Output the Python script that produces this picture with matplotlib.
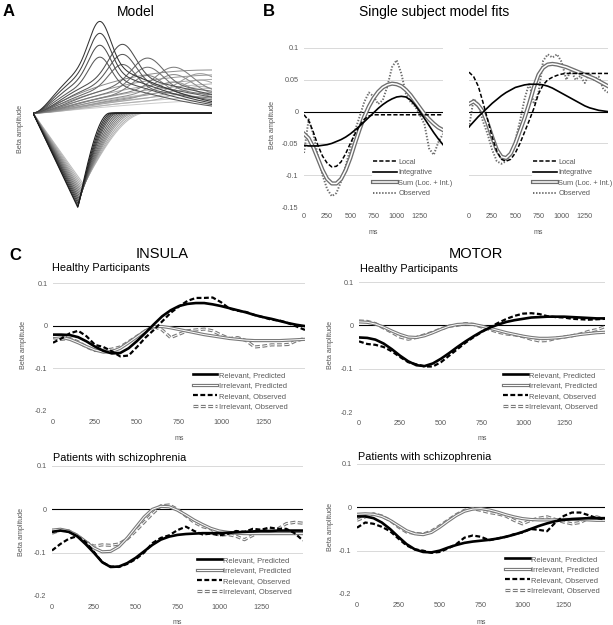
import numpy as np
import matplotlib.pyplot as plt
from matplotlib.lines import Line2D
from matplotlib.ticker import FuncFormatter

plt.rcParams['font.family'] = ['Liberation Sans', 'DejaVu Sans']
plt.rcParams['axes.unicode_minus'] = False
plt.rcParams['lines.scale_dashes'] = False

# ---------------- data ----------------
ms = list(range(0, 1501, 50))
ms_ticks = [0, 250, 500, 750, 1000, 1250]

# A: model basis curves (peak time, amplitude, width, grey level)
peak_ms = [560, 560, 560, 560, 750, 750, 750, 960, 960, 960, 1180, 1180, 1180, 1400, 1400, 1400]
peak_amp = [1.0, .87, .74, .61, .75, .64, .53, .60, .50, .41, .50, .42, .34, .43, .36, .29]
peak_sd = [90, 90, 90, 90, 110, 110, 110, 130, 130, 130, 150, 150, 150, 170, 170, 170]
peak_grey = [.2, .25, .3, .35, .3, .35, .4, .4, .45, .5, .5, .55, .6, .6, .65, .7]

ramp_ms = [1500, 1700, 1900, 2100, 2300, 2500, 2700, 2900]
ramp_amp = [.47, .42, .38, .34, .30, .26, .22, .18]
ramp_grey = [.55, .6, .65, .7, .72, .75, .78, .8]

dip_ms = [375, 378, 381, 384, 387, 390, 394, 398, 402, 406, 410, 415, 420, 425]
dip_depth = [1.03, 1.02, 1.0, .98, .96, .94, .92, .9, .88, .86, .84, .82, .8, .78]
dip_rise = [270, 285, 300, 315, 330, 350, 370, 390, 410, 430, 450, 475, 500, 520]
dip_grey = [.1, .15, .2, .25, .3, .35, .4, .45, .5, .55, .6, .65, .7, .75]

# B: single subject fits
b1_local = [-0.005, -0.014, -0.032, -0.053, -0.07, -0.081, -0.087, -0.086, -0.079, -0.066,
            -0.05, -0.035, -0.022, -0.012, -0.007, -0.005, -0.005, -0.005, -0.005, -0.005,
            -0.005, -0.005, -0.005, -0.005, -0.005, -0.005, -0.005, -0.005, -0.005, -0.005, -0.005]
b1_integ = [-0.053, -0.054, -0.054, -0.054, -0.053, -0.052, -0.05, -0.047, -0.044, -0.04,
            -0.035, -0.029, -0.023, -0.016, -0.009, -0.002, 0.005, 0.011, 0.016, 0.02,
            0.023, 0.024, 0.023, 0.018, 0.01, 0.0, -0.011, -0.022, -0.033, -0.043, -0.052]
b1_sum = [-0.035, -0.042, -0.056, -0.074, -0.092, -0.106, -0.113, -0.113, -0.106, -0.092,
          -0.073, -0.05, -0.028, -0.008, 0.008, 0.021, 0.031, 0.038, 0.042, 0.044,
          0.043, 0.04, 0.034, 0.026, 0.016, 0.006, -0.004, -0.012, -0.019, -0.025, -0.029]
b1_obs = [-0.065, -0.012, -0.035, -0.07, -0.1, -0.122, -0.133, -0.128, -0.11, -0.085,
          -0.058, -0.03, -0.008, 0.015, 0.03, 0.024, 0.012, 0.018, 0.04, 0.07,
          0.081, 0.06, 0.028, 0.015, 0.008, -0.005, -0.02, -0.058, -0.068, -0.048, -0.035]

b2_local = [0.062, 0.055, 0.04, 0.015, -0.012, -0.04, -0.062, -0.075, -0.078, -0.075,
            -0.065, -0.05, -0.032, -0.014, 0.005, 0.028, 0.042, 0.05, 0.054, 0.057,
            0.059, 0.06, 0.06, 0.06, 0.06, 0.06, 0.06, 0.06, 0.06, 0.06, 0.06]
b2_integ = [-0.024, -0.016, -0.008, -0.001, 0.006, 0.013, 0.019, 0.025, 0.03, 0.034,
            0.038, 0.04, 0.042, 0.043, 0.043, 0.043, 0.042, 0.04, 0.037, 0.033,
            0.029, 0.025, 0.021, 0.017, 0.013, 0.009, 0.006, 0.004, 0.002, 0.001, 0.0]
b2_sum = [0.012, 0.016, 0.01, 0.0, -0.018, -0.04, -0.06, -0.071, -0.073, -0.066,
          -0.05, -0.03, -0.01, 0.013, 0.038, 0.058, 0.069, 0.074, 0.075, 0.074,
          0.072, 0.07, 0.067, 0.064, 0.061, 0.058, 0.055, 0.052, 0.048, 0.044, 0.04]
b2_obs = [-0.025, 0.02, 0.012, -0.015, -0.035, -0.06, -0.078, -0.082, -0.078, -0.068,
          -0.045, -0.015, 0.02, 0.045, 0.012, 0.03, 0.08, 0.09, 0.085, 0.09,
          0.078, 0.05, 0.065, 0.05, 0.056, 0.045, 0.06, 0.05, 0.055, 0.035, 0.03]

# C: group averages (relevant / irrelevant, predicted / observed)
ins_hc_rel_pred = [-0.021, -0.021, -0.022, -0.027, -0.037, -0.049, -0.059, -0.065, -0.064, -0.053,
                   -0.036, -0.017, 0.003, 0.022, 0.036, 0.046, 0.051, 0.053, 0.053, 0.05,
                   0.046, 0.041, 0.036, 0.031, 0.025, 0.02, 0.016, 0.011, 0.006, 0.002, -0.001]
ins_hc_irr_pred = [-0.025, -0.027, -0.032, -0.04, -0.049, -0.057, -0.062, -0.061, -0.053, -0.04,
                   -0.026, -0.012, -0.002, -0.002, -0.005, -0.009, -0.013, -0.017, -0.021, -0.024,
                   -0.027, -0.03, -0.032, -0.034, -0.035, -0.035, -0.035, -0.035, -0.034, -0.033, -0.032]
ins_hc_rel_obs = [-0.04, -0.03, -0.018, -0.012, -0.025, -0.045, -0.05, -0.06, -0.072, -0.07,
                  -0.05, -0.028, -0.01, 0.01, 0.03, 0.045, 0.058, 0.065, 0.065, 0.066,
                  0.055, 0.04, 0.035, 0.032, 0.025, 0.02, 0.014, 0.012, 0.006, -0.002, -0.01]
ins_hc_irr_obs = [-0.028, -0.032, -0.03, -0.038, -0.05, -0.058, -0.058, -0.055, -0.05, -0.038,
                  -0.025, -0.012, -0.002, -0.01, -0.028, -0.02, -0.012, -0.01, -0.008, -0.012,
                  -0.022, -0.03, -0.028, -0.035, -0.05, -0.048, -0.045, -0.045, -0.044, -0.035, -0.03]

mot_hc_rel_pred = [-0.028, -0.029, -0.033, -0.042, -0.055, -0.07, -0.083, -0.092, -0.094, -0.088,
                   -0.077, -0.064, -0.05, -0.037, -0.025, -0.014, -0.005, 0.002, 0.008, 0.012,
                   0.015, 0.018, 0.019, 0.02, 0.02, 0.02, 0.019, 0.018, 0.017, 0.016, 0.016]
mot_hc_irr_pred = [0.008, 0.007, 0.003, -0.004, -0.013, -0.021, -0.027, -0.028, -0.024, -0.017,
                   -0.009, -0.002, 0.002, 0.003, 0.002, -0.002, -0.007, -0.012, -0.017, -0.021,
                   -0.025, -0.028, -0.03, -0.03, -0.029, -0.027, -0.024, -0.021, -0.019, -0.017, -0.016]
mot_hc_rel_obs = [-0.037, -0.043, -0.045, -0.05, -0.06, -0.073, -0.085, -0.09, -0.095, -0.095,
                  -0.085, -0.07, -0.055, -0.04, -0.027, -0.015, -0.004, 0.006, 0.015, 0.022,
                  0.027, 0.028, 0.026, 0.021, 0.019, 0.018, 0.015, 0.014, 0.013, 0.014, 0.015]
mot_hc_irr_obs = [0.01, 0.009, 0.004, -0.006, -0.016, -0.027, -0.032, -0.028, -0.022, -0.016,
                  -0.008, -0.002, 0.0, 0.004, 0.002, -0.004, -0.01, -0.016, -0.02, -0.022,
                  -0.026, -0.032, -0.036, -0.035, -0.03, -0.027, -0.024, -0.02, -0.014, -0.01, -0.003]

ins_sz_rel_pred = [-0.052, -0.049, -0.052, -0.062, -0.08, -0.1, -0.122, -0.133, -0.132, -0.124,
                   -0.112, -0.097, -0.082, -0.07, -0.063, -0.059, -0.057, -0.056, -0.055, -0.055,
                   -0.055, -0.054, -0.053, -0.052, -0.051, -0.05, -0.05, -0.049, -0.049, -0.049, -0.049]
ins_sz_irr_pred = [-0.048, -0.046, -0.05, -0.06, -0.074, -0.089, -0.098, -0.097, -0.086, -0.066,
                   -0.042, -0.018, 0.0, 0.007, 0.006, -0.002, -0.013, -0.025, -0.035, -0.044,
                   -0.05, -0.053, -0.055, -0.056, -0.056, -0.056, -0.056, -0.056, -0.056, -0.056, -0.056]
ins_sz_rel_obs = [-0.095, -0.08, -0.068, -0.062, -0.075, -0.098, -0.122, -0.132, -0.133, -0.126,
                  -0.115, -0.1, -0.078, -0.066, -0.06, -0.048, -0.04, -0.05, -0.058, -0.056,
                  -0.06, -0.057, -0.05, -0.052, -0.045, -0.047, -0.042, -0.045, -0.045, -0.055, -0.072]
ins_sz_irr_obs = [-0.055, -0.048, -0.05, -0.06, -0.075, -0.085, -0.082, -0.083, -0.08, -0.068,
                  -0.05, -0.03, -0.01, 0.008, 0.01, 0.0, -0.015, -0.03, -0.04, -0.045,
                  -0.06, -0.058, -0.062, -0.07, -0.06, -0.05, -0.048, -0.045, -0.033, -0.03, -0.032]

mot_sz_rel_pred = [-0.021, -0.021, -0.025, -0.035, -0.05, -0.068, -0.085, -0.097, -0.103, -0.104,
                   -0.1, -0.093, -0.087, -0.082, -0.079, -0.077, -0.075, -0.072, -0.068, -0.063,
                   -0.057, -0.05, -0.043, -0.037, -0.032, -0.029, -0.027, -0.026, -0.025, -0.025, -0.025]
mot_sz_irr_pred = [-0.016, -0.015, -0.016, -0.021, -0.03, -0.042, -0.054, -0.061, -0.063, -0.058,
                   -0.046, -0.032, -0.019, -0.009, -0.004, -0.003, -0.006, -0.011, -0.017, -0.022,
                   -0.026, -0.028, -0.029, -0.029, -0.029, -0.028, -0.028, -0.028, -0.029, -0.03, -0.03]
mot_sz_rel_obs = [-0.047, -0.035, -0.038, -0.045, -0.055, -0.072, -0.088, -0.097, -0.1, -0.105,
                  -0.103, -0.095, -0.085, -0.07, -0.065, -0.068, -0.076, -0.072, -0.068, -0.062,
                  -0.058, -0.05, -0.052, -0.055, -0.035, -0.02, -0.012, -0.012, -0.018, -0.025, -0.028]
mot_sz_irr_obs = [-0.03, -0.022, -0.015, -0.02, -0.03, -0.045, -0.057, -0.06, -0.062, -0.055,
                  -0.043, -0.03, -0.017, -0.007, -0.003, -0.007, -0.012, -0.015, -0.02, -0.03,
                  -0.038, -0.03, -0.025, -0.022, -0.028, -0.034, -0.038, -0.035, -0.025, -0.022, -0.028]

# ---------------- figure ----------------
W, H = 613, 625
fig = plt.figure(figsize=(W / 100, H / 100), dpi=100)
GRID = '#d9d9d9'
TXT = '#595959'
GREY = '#7a7a7a'


def box(l, t, r, b):
    return [l / W, 1 - b / H, (r - l) / W, (b - t) / H]


def fx(x):
    return x / W


def fy(y):
    return 1 - y / H


def excel_axes(ax, yticks, show_y=True):
    ax.set_xlim(0, 1500)
    ax.set_ylim(yticks[0], yticks[-1])
    ax.set_xticks(ms_ticks)
    ax.set_yticks(yticks)
    ax.yaxis.set_major_formatter(FuncFormatter(lambda v, p: '%g' % round(v, 3)))
    for s in ax.spines.values():
        s.set_visible(False)
    ax.tick_params(length=0, labelsize=5.2, labelcolor=TXT, pad=4)
    if not show_y:
        ax.set_yticklabels([])
    ax.grid(axis='y', color=GRID, lw=0.7)
    ax.set_axisbelow(True)
    ax.axhline(0, color='black', lw=0.8, zorder=1)


def gamma_shape(t, tp, k):
    return (t / tp) ** k * np.exp(k * (1 - t / tp))


# ---- panel A ----
axA = fig.add_axes(box(33, 15, 212, 212))
t = np.linspace(0, 1500, 601)
for tp, a, g in reversed(list(zip(ramp_ms, ramp_amp, ramp_grey))):
    axA.plot(t, a * gamma_shape(t, tp, 1.3), color=str(g), lw=0.7)
for tp, a, sd, g in reversed(list(zip(peak_ms, peak_amp, peak_sd, peak_grey))):
    y = a * (0.5 * gamma_shape(t, tp, 2.0) + 0.5 * np.exp(-0.5 * ((t - tp) / sd) ** 2))
    axA.plot(t, y, color=str(g), lw=0.75)
for tp, d, w, g in reversed(list(zip(dip_ms, dip_depth, dip_rise, dip_grey))):
    y = np.where(t <= tp, -d * t / tp, 0.0)
    s = np.clip((t - tp) / w, 0, 1)
    y = np.where(t > tp, -d * (1 - np.sin(np.pi / 2 * s)), y)
    axA.plot(t, y, color=str(g), lw=0.75)
axA.set_xlim(0, 1500)
axA.set_ylim(-1.08, 1.07)
axA.axis('off')

fig.text(fx(3), fy(12), 'A', fontsize=12, fontweight='bold', ha='left', va='center')
fig.text(fx(136), fy(12), 'Model', fontsize=10, ha='center', va='center')
fig.text(fx(21), fy(129), 'Beta amplitude', fontsize=5.2, color=TXT, rotation=90, ha='center', va='center')

# ---- panel B ----
b_ticks = [-0.15, -0.1, -0.05, 0, 0.05, 0.1]


def double(color, lw_out, lw_in, dashes=None):
    kw = {} if dashes is None else {'dashes': dashes}
    return (dict(color=color, lw=lw_out, **kw), dict(color='white', lw=lw_in, **kw))


b_sum_style = double('#6e6e6e', 3.0, 1.1)
b_styles = [
    dict(color='black', lw=1.1, dashes=(3, 1.5)),
    dict(color='black', lw=1.2),
]
b_obs_style = dict(color='#6e6e6e', lw=1.4, dashes=(1, 1.2))
b_labels = ['Local', 'Integrative', 'Sum (Loc. + Int.)', 'Observed']

for (l, r), series, leg_x, show_y in [((304, 443), (b1_local, b1_integ, b1_sum, b1_obs), 372, True),
                                      ((469, 608), (b2_local, b2_integ, b2_sum, b2_obs), 532, False)]:
    ax = fig.add_axes(box(l, 48, r, 207))
    excel_axes(ax, b_ticks, show_y)
    ax.plot(ms, series[3], **b_obs_style)
    ax.plot(ms, series[2], **b_sum_style[0])
    ax.plot(ms, series[2], **b_sum_style[1])
    ax.plot(ms, series[1], **b_styles[1])
    ax.plot(ms, series[0], **b_styles[0])
    handles = [Line2D([], [], **b_styles[0]), Line2D([], [], **b_styles[1]),
               (Line2D([], [], **b_sum_style[0]), Line2D([], [], **b_sum_style[1])),
               Line2D([], [], **b_obs_style)]
    leg = ax.legend(handles, b_labels, loc='upper left', bbox_to_anchor=(fx(leg_x), fy(158)),
                    bbox_transform=fig.transFigure, fontsize=5.3, handlelength=3.3,
                    handletextpad=0.2, labelspacing=0.45, borderpad=0.1, borderaxespad=0,
                    frameon=True, facecolor='white', edgecolor='none', framealpha=1)
    for txt in leg.get_texts():
        txt.set_color(TXT)
    fig.text(fx((l + r) / 2), fy(232), 'ms', fontsize=5, color=TXT, ha='center', va='center')

fig.text(fx(263), fy(12), 'B', fontsize=12, fontweight='bold', ha='left', va='center')
fig.text(fx(434), fy(12), 'Single subject model fits', fontsize=10, ha='center', va='center')
fig.text(fx(272), fy(125), 'Beta amplitude', fontsize=5.2, color=TXT, rotation=90, ha='center', va='center')

# ---- panel C ----
c_ticks = [-0.2, -0.1, 0, 0.1]
rel_pred_style = dict(color='black', lw=1.9)
irr_pred_style = double(GREY, 2.3, 0.7)
rel_obs_style = dict(color='black', lw=1.6, dashes=(3.5, 1.8))
irr_obs_style = double(GREY, 2.3, 0.7, dashes=(3.5, 1.8))
c_labels = ['Relevant, Predicted', 'Irrelevant, Predicted', 'Relevant, Observed', 'Irrelevant, Observed']

c_panels = [
    ((53, 283, 305, 411), (ins_hc_rel_pred, ins_hc_irr_pred, ins_hc_rel_obs, ins_hc_irr_obs),
     (192, 371), 'Healthy Participants', (52, 268), (24, 345), 438),
    ((359, 282, 605, 412), (mot_hc_rel_pred, mot_hc_irr_pred, mot_hc_rel_obs, mot_hc_irr_obs),
     (502, 371), 'Healthy Participants', (360, 269), (330, 345), 438),
    ((52, 466, 303, 596), (ins_sz_rel_pred, ins_sz_irr_pred, ins_sz_rel_obs, ins_sz_irr_obs),
     (196, 556), 'Patients with schizophrenia', (53, 458), (22, 532), 622),
    ((357, 464, 605, 594), (mot_sz_rel_pred, mot_sz_irr_pred, mot_sz_rel_obs, mot_sz_irr_obs),
     (504, 555), 'Patients with schizophrenia', (358, 457), (331, 527), 622),
]

for (l, tp_, r, b), (rp, ip, ro, io), (lx, ly), sub, (sx, sy), (yx, yy), msy in c_panels:
    ax = fig.add_axes(box(l, tp_, r, b))
    excel_axes(ax, c_ticks)
    ax.tick_params(axis='x', pad=6)
    ax.plot(ms, io, **irr_obs_style[0])
    ax.plot(ms, io, **irr_obs_style[1])
    ax.plot(ms, ip, **irr_pred_style[0])
    ax.plot(ms, ip, **irr_pred_style[1])
    ax.plot(ms, ro, **rel_obs_style)
    ax.plot(ms, rp, **rel_pred_style)
    handles = [Line2D([], [], **rel_pred_style),
               (Line2D([], [], **irr_pred_style[0]), Line2D([], [], **irr_pred_style[1])),
               Line2D([], [], **rel_obs_style),
               (Line2D([], [], **irr_obs_style[0]), Line2D([], [], **irr_obs_style[1]))]
    leg = ax.legend(handles, c_labels, loc='upper left', bbox_to_anchor=(fx(lx), fy(ly)),
                    bbox_transform=fig.transFigure, fontsize=5.4, handlelength=3.3,
                    handletextpad=0.2, labelspacing=0.42, borderpad=0.1, borderaxespad=0,
                    frameon=True, facecolor='white', edgecolor='none', framealpha=1)
    for txt in leg.get_texts():
        txt.set_color(TXT)
    fig.text(fx(sx), fy(sy), sub, fontsize=7.8, ha='left', va='center')
    fig.text(fx(yx), fy(yy), 'Beta amplitude', fontsize=5.2, color=TXT, rotation=90, ha='center', va='center')
    fig.text(fx((l + r) / 2), fy(msy), 'ms', fontsize=5, color=TXT, ha='center', va='center')

fig.text(fx(9), fy(256), 'C', fontsize=12, fontweight='bold', ha='left', va='center')
fig.text(fx(162), fy(254), 'INSULA', fontsize=10.5, ha='center', va='center')
fig.text(fx(476), fy(254), 'MOTOR', fontsize=10.5, ha='center', va='center')

fig.savefig('out.png', dpi=100)
